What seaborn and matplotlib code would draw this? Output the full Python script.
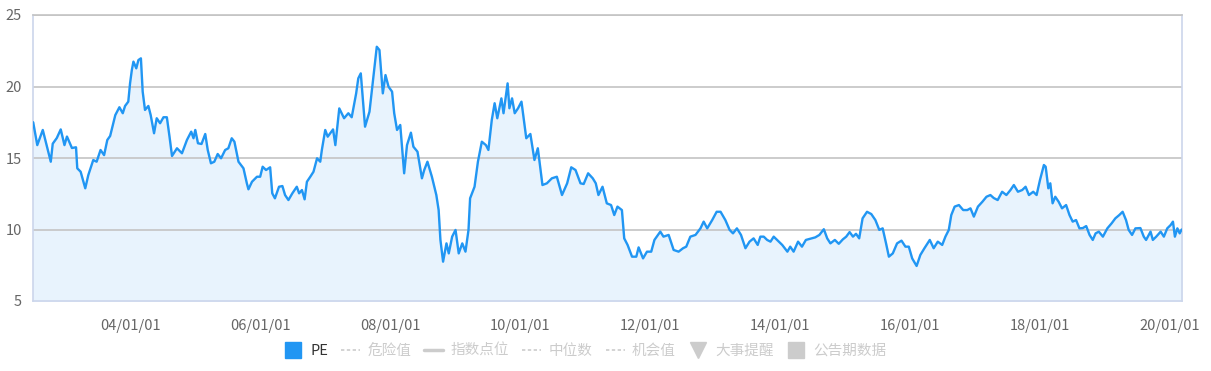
import pandas as pd
import numpy as np
import matplotlib
matplotlib.use("Agg")
import matplotlib.pyplot as plt
import matplotlib.dates as mdates
from matplotlib.lines import Line2D
import seaborn as sns

# PE history
dates = [
    "2002-07-02", "2002-07-25", "2002-08-25", "2002-09-13", "2002-10-09", "2002-10-20", "2002-11-12", "2002-12-04", "2002-12-25",
    "2003-01-08", "2003-02-05", "2003-02-28", "2003-03-07", "2003-03-26", "2003-04-21", "2003-05-08", "2003-06-05", "2003-06-24",
    "2003-07-16", "2003-08-05", "2003-08-23", "2003-09-08", "2003-10-07", "2003-10-30", "2003-11-18", "2003-12-01", "2003-12-19", "2003-12-29",
    "2004-01-08", "2004-01-17", "2004-02-02", "2004-02-14", "2004-02-28", "2004-03-09", "2004-03-22", "2004-04-10", "2004-04-23",
    "2004-05-12", "2004-05-27", "2004-06-15", "2004-07-04", "2004-07-23", "2004-08-07", "2004-08-21", "2004-09-18", "2004-10-16",
    "2004-11-13", "2004-12-07", "2004-12-20", "2004-12-30",
    "2005-01-14", "2005-02-03", "2005-02-24", "2005-03-10", "2005-03-28", "2005-04-16", "2005-05-05", "2005-05-24", "2005-06-16",
    "2005-07-04", "2005-07-23", "2005-08-07", "2005-08-30", "2005-09-27", "2005-10-16", "2005-10-25", "2005-11-14", "2005-12-12", "2005-12-30",
    "2006-01-13", "2006-02-01", "2006-02-24", "2006-03-08", "2006-03-23", "2006-04-15", "2006-05-04", "2006-05-19", "2006-06-07",
    "2006-06-29", "2006-07-24", "2006-08-06", "2006-08-22", "2006-09-06", "2006-09-19", "2006-10-08", "2006-10-26", "2006-11-15",
    "2006-12-03", "2006-12-12", "2006-12-31",
    "2007-01-14", "2007-02-13", "2007-02-26", "2007-03-20", "2007-04-16", "2007-05-10", "2007-05-29", "2007-06-23", "2007-07-05",
    "2007-07-19", "2007-08-12", "2007-09-06", "2007-09-25", "2007-10-17", "2007-11-01", "2007-11-20", "2007-12-05", "2007-12-22",
    "2008-01-11", "2008-01-23", "2008-02-08", "2008-02-26", "2008-03-19", "2008-04-04", "2008-04-26", "2008-05-10", "2008-06-02",
    "2008-06-27", "2008-07-10", "2008-07-28", "2008-08-22", "2008-09-16", "2008-09-29", "2008-10-09", "2008-10-24", "2008-11-12",
    "2008-11-25", "2008-12-14",
    "2009-01-02", "2009-01-20", "2009-02-09", "2009-02-27", "2009-03-16", "2009-03-25", "2009-04-19", "2009-05-08", "2009-05-30",
    "2009-06-22", "2009-07-06", "2009-07-25", "2009-08-10", "2009-08-25", "2009-09-17", "2009-09-29", "2009-10-22", "2009-11-01",
    "2009-11-16", "2009-12-01", "2009-12-20",
    "2010-01-08", "2010-02-04", "2010-02-27", "2010-03-22", "2010-04-10", "2010-05-06", "2010-05-31", "2010-06-28", "2010-07-26",
    "2010-08-24", "2010-09-22", "2010-10-15", "2010-11-08", "2010-12-06", "2010-12-24",
    "2011-01-18", "2011-02-13", "2011-03-02", "2011-03-17", "2011-04-09", "2011-05-03", "2011-05-27", "2011-06-14", "2011-07-02",
    "2011-07-27", "2011-08-09", "2011-08-28", "2011-09-22", "2011-10-16", "2011-10-29", "2011-11-23", "2011-12-15",
    "2012-01-08", "2012-01-26", "2012-02-28", "2012-03-17", "2012-04-15", "2012-05-13", "2012-06-10", "2012-07-05", "2012-07-23",
    "2012-08-15", "2012-09-13", "2012-10-11", "2012-10-29", "2012-11-18", "2012-12-16",
    "2013-01-10", "2013-02-01", "2013-02-28", "2013-03-24", "2013-04-12", "2013-05-04", "2013-05-27", "2013-06-21", "2013-07-14",
    "2013-08-06", "2013-08-29", "2013-09-13", "2013-10-02", "2013-10-21", "2013-11-09", "2013-11-27", "2013-12-16",
    "2014-01-14", "2014-02-12", "2014-02-28", "2014-03-19", "2014-04-13", "2014-05-05", "2014-05-27", "2014-06-27", "2014-07-19",
    "2014-08-11", "2014-09-05", "2014-09-24", "2014-10-12", "2014-11-06", "2014-11-28", "2014-12-21",
    "2015-01-09", "2015-01-28", "2015-02-16", "2015-03-05", "2015-03-23", "2015-04-11", "2015-05-06", "2015-05-30", "2015-06-22",
    "2015-07-14", "2015-08-02", "2015-08-21", "2015-09-06", "2015-09-28", "2015-10-22", "2015-11-16", "2015-12-08", "2015-12-27",
    "2016-01-15", "2016-02-09", "2016-03-01", "2016-03-24", "2016-04-23", "2016-05-15", "2016-06-07", "2016-07-02", "2016-07-20",
    "2016-08-08", "2016-08-22", "2016-09-10", "2016-10-04", "2016-10-28", "2016-11-20", "2016-12-08", "2016-12-27",
    "2017-01-19", "2017-02-13", "2017-03-08", "2017-03-30", "2017-04-18", "2017-05-10", "2017-06-04", "2017-06-28", "2017-07-21",
    "2017-08-09", "2017-09-01", "2017-09-25", "2017-10-14", "2017-11-02", "2017-11-26", "2017-12-15",
    "2018-01-03", "2018-01-25", "2018-02-04", "2018-02-19", "2018-03-02", "2018-03-15", "2018-03-30", "2018-04-18", "2018-05-07",
    "2018-05-30", "2018-06-18", "2018-07-06", "2018-07-25", "2018-08-13", "2018-09-01", "2018-09-20", "2018-10-09", "2018-10-27",
    "2018-11-12", "2018-11-30", "2018-12-23",
    "2019-01-17", "2019-02-10", "2019-03-03", "2019-03-25", "2019-04-13", "2019-05-02", "2019-05-17", "2019-06-05", "2019-06-24",
    "2019-07-22", "2019-08-10", "2019-08-23", "2019-09-17", "2019-09-30", "2019-10-19", "2019-11-13", "2019-12-01", "2019-12-20",
    "2020-01-08", "2020-01-21", "2020-02-01", "2020-02-15", "2020-02-28", "2020-03-10",
]
pe = [
    17.5, 15.9, 16.96, 16.03, 14.74, 16.0, 16.4, 17.0, 15.9,
    16.5, 15.7, 15.75, 14.28, 14.04, 12.88, 13.8, 14.86, 14.74,
    15.56, 15.2, 16.26, 16.54, 18.0, 18.55, 18.13, 18.64, 18.94, 20.22,
    21.15, 21.74, 21.27, 21.85, 21.97, 19.64, 18.36, 18.64, 18.0,
    16.73, 17.78, 17.43, 17.85, 17.85, 16.49, 15.14, 15.68, 15.33,
    16.26, 16.84, 16.38, 16.96,
    16.03, 15.98, 16.68, 15.56, 14.63, 14.74, 15.28, 14.98, 15.56,
    15.68, 16.38, 16.14, 14.74, 14.28, 13.23, 12.81, 13.34, 13.69, 13.69,
    14.39, 14.16, 14.35, 12.53, 12.18, 12.99, 13.04, 12.41, 12.06,
    12.53, 12.99, 12.53, 12.76, 12.11, 13.34, 13.69, 14.04, 14.98,
    14.74, 15.56, 16.96,
    16.49, 17.0, 15.9, 18.47, 17.78, 18.13, 17.85, 19.52, 20.57,
    20.92, 17.19, 18.24, 20.34, 22.78, 22.55, 19.52, 20.8, 19.99,
    19.64, 18.13, 16.96, 17.31, 13.93, 15.9, 16.77, 15.79, 15.44,
    13.58, 14.16, 14.74, 13.69, 12.41, 11.36, 9.27, 7.75, 9.03,
    8.33, 9.5,
    9.97, 8.33, 9.03, 8.45, 9.97, 12.18, 12.99, 14.74, 16.14,
    15.9, 15.56, 17.66, 18.83, 17.78, 19.17, 18.13, 20.22, 18.48,
    19.17, 18.13, 18.48,
    18.94, 16.38, 16.68, 14.86, 15.68, 13.11, 13.23, 13.58, 13.69,
    12.41, 13.23, 14.35, 14.16, 13.23, 13.18,
    13.93, 13.58, 13.23, 12.41, 12.99, 11.83, 11.71, 11.01, 11.6,
    11.36, 9.38, 8.92, 8.1, 8.1, 8.75, 7.98, 8.45,
    8.45, 9.27, 9.85, 9.5, 9.62, 8.57, 8.45, 8.69, 8.8,
    9.5, 9.62, 10.08, 10.55, 10.08, 10.66,
    11.24, 11.24, 10.66, 9.97, 9.73, 10.08, 9.62, 8.69, 9.15,
    9.38, 8.92, 9.5, 9.5, 9.27, 9.15, 9.5, 9.27,
    8.92, 8.45, 8.8, 8.45, 9.15, 8.8, 9.27, 9.38, 9.45,
    9.62, 10.02, 9.38, 9.03, 9.27, 9.0, 9.31,
    9.5, 9.82, 9.5, 9.7, 9.38, 10.78, 11.24, 11.08, 10.66,
    9.97, 10.08, 9.03, 8.1, 8.33, 9.03, 9.22, 8.8, 8.8,
    7.98, 7.45, 8.22, 8.69, 9.27, 8.69, 9.15, 8.92, 9.5,
    9.97, 11.01, 11.6, 11.71, 11.36, 11.36, 11.48, 10.9,
    11.6, 11.94, 12.29, 12.41, 12.2, 12.06, 12.64, 12.41, 12.76,
    13.11, 12.64, 12.76, 12.99, 12.41, 12.64, 12.41,
    13.46, 14.51, 14.39, 12.88, 13.23, 11.83, 12.29, 11.94, 11.48,
    11.71, 11.01, 10.55, 10.66, 10.08, 10.1, 10.24, 9.62, 9.27,
    9.73, 9.85, 9.5,
    10.08, 10.43, 10.78, 11.01, 11.24, 10.66, 9.97, 9.62, 10.08,
    10.1, 9.5, 9.27, 9.85, 9.27, 9.5, 9.85, 9.5, 10.08,
    10.31, 10.55, 9.5, 10.08, 9.73, 10.0,
]

y_ticks = [5, 10, 15, 20, 25]
x_ticks = ["2004-01-01", "2006-01-01", "2008-01-01", "2010-01-01", "2012-01-01",
           "2014-01-01", "2016-01-01", "2018-01-01", "2020-01-01"]
legend_labels = ["PE", "危险值", "指数点位", "中位数", "机会值", "大事提醒", "公告期数据"]

sns.set_style("white")
plt.rcParams['font.family'] = ['Noto Sans CJK SC', 'DejaVu Sans']

df = pd.DataFrame({"date": pd.to_datetime(dates), "PE": pe})

fig = plt.figure(figsize=(12.11, 3.71), dpi=100)
ax = fig.add_axes([33 / 1211, 1 - 301 / 371, (1182 - 33) / 1211, (301 - 15) / 371])

line_color = "#2196f3"
ax.fill_between(df["date"], df["PE"], 5, color="#e8f3fd", zorder=1)
sns.lineplot(data=df, x="date", y="PE", ax=ax, color=line_color, linewidth=1.7, zorder=3)

ax.set_xlim(pd.Timestamp("2002-07-01"), pd.Timestamp("2020-03-12"))
ax.set_ylim(5, 25)
ax.set_yticks(y_ticks)
ax.set_xticks(pd.to_datetime(x_ticks))
ax.xaxis.set_major_formatter(mdates.DateFormatter("%y/%m/%d"))
ax.set_xlabel("")
ax.set_ylabel("")

for v in y_ticks[1:]:
    ax.axhline(v, color="#c4c4c4", linewidth=1.2, zorder=2)

for side in ["left", "bottom", "right"]:
    ax.spines[side].set_color("#ccd6eb")
    ax.spines[side].set_linewidth(1.2)
ax.spines["top"].set_color("#c4c4c4")
ax.spines["top"].set_linewidth(1.2)

ax.tick_params(axis="y", length=0, pad=8, labelsize=10.5, labelcolor="#666666")
ax.tick_params(axis="x", length=6, width=1, color="#ccd6eb", pad=7,
               labelsize=10.5, labelcolor="#666666")

gray = "#cccccc"
handles = [
    Line2D([], [], marker="s", color=line_color, markersize=11, linestyle="None"),
    Line2D([], [], color=gray, linestyle=(0, (2, 1.5)), linewidth=1.2),
    Line2D([], [], color=gray, linewidth=2.5),
    Line2D([], [], color=gray, linestyle=(0, (2, 1.5)), linewidth=1.2),
    Line2D([], [], color=gray, linestyle=(0, (2, 1.5)), linewidth=1.2),
    Line2D([], [], marker="v", color=gray, markersize=12, linestyle="None"),
    Line2D([], [], marker="s", color=gray, markersize=11, linestyle="None"),
]
leg = fig.legend(handles, legend_labels, loc="center", bbox_to_anchor=(585 / 1211, 1 - 351 / 371),
                 ncol=7, frameon=False, fontsize=10.5, handlelength=1.3, handletextpad=0.5,
                 columnspacing=0.9)
for i, txt in enumerate(leg.get_texts()):
    txt.set_color("#333333" if i == 0 else gray)

fig.savefig("out.png", dpi=100, facecolor="white")
plt.close(fig)
